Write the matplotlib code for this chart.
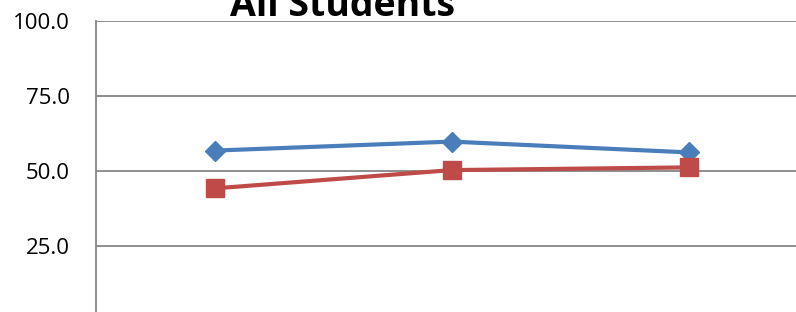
import matplotlib.pyplot as plt

# Data
categories = ['2011', '2012', '2013']
series_blue = [56.8, 59.8, 56.2]
series_red = [44.2, 50.3, 51.2]
yticks = [25, 50, 75, 100]

fig = plt.figure(figsize=(7.96, 3.12), dpi=100)
# plot area runs past the bottom and right edges (cropped Excel chart)
ax = fig.add_axes([96 / 796, -9 / 312, 711 / 796, 300 / 312])

x = range(len(categories))
ax.plot(x, series_blue, color='#4A7EBB', lw=3, marker='D', ms=10, zorder=3)
ax.plot(x, series_red, color='#BE4B48', lw=3, marker='s', ms=13, zorder=3)

ax.set_xlim(-0.5, 2.5)
ax.set_ylim(0, 100)
ax.set_yticks(yticks)
ax.set_yticklabels([f'{v:.1f}' for v in yticks], fontfamily='Open Sans', fontsize=16)
ax.tick_params(axis='y', length=0, pad=19)
ax.set_xticks([])
ax.yaxis.grid(True, color='#868686', lw=1.3)
ax.set_axisbelow(True)
for side in ['top', 'right', 'bottom']:
    ax.spines[side].set_visible(False)
ax.spines['left'].set_color('#868686')
ax.spines['left'].set_linewidth(1.3)

fig.text(342 / 796, 1 - 16 / 312, 'All Students', ha='center', va='baseline',
         fontfamily='Open Sans', fontweight='bold', fontsize=27)

fig.savefig('out.png', dpi=100)
